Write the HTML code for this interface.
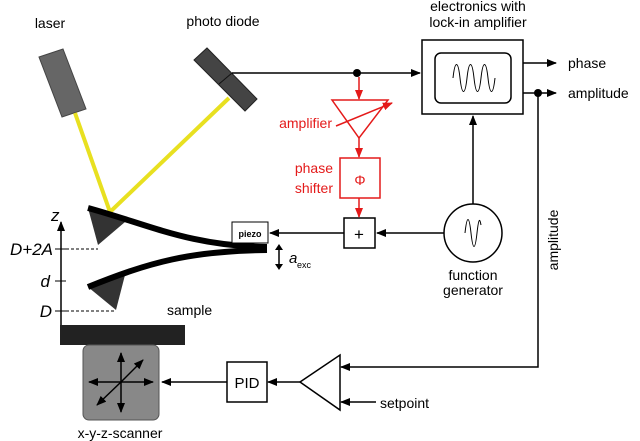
<!DOCTYPE html>
<html><head><style>body{margin:0;background:#fff}svg{display:block}text{font-family:"Liberation Sans",sans-serif}</style></head><body>
<svg width="640" height="441" viewBox="0 0 640 441" xmlns="http://www.w3.org/2000/svg">
<defs>
<marker id="a" markerWidth="10" markerHeight="8" refX="9" refY="4" orient="auto" markerUnits="userSpaceOnUse"><path d="M0,0 L10,4 L0,8z" fill="#000"/></marker>
<marker id="r" markerWidth="10" markerHeight="8" refX="9" refY="4" orient="auto" markerUnits="userSpaceOnUse"><path d="M0,0 L10,4 L0,8z" fill="#e41a1a"/></marker>
</defs>
<text x="50" y="28" font-size="14" text-anchor="middle">laser</text>
<text x="223" y="26" font-size="14" text-anchor="middle">photo diode</text>
<polygon points="39,57 63,49 86,109 62,117" fill="#666" stroke="#444"/>
<polygon points="194,60 207,48 257,99 245,111" fill="#444" stroke="#222"/>
<line x1="219" y1="84" x2="232" y2="73" stroke="#111" stroke-width="1"/>
<polyline points="75,113 110,212 229,98" fill="none" stroke="#e8e020" stroke-width="4"/>
<!-- cantilever -->
<polygon points="88,208 125,222 98,245" fill="#333"/>
<polygon points="88,287 125,275 116,310" fill="#333"/>
<path d="M88,208 C150,225 190,246 267,247" fill="none" stroke="#000" stroke-width="6"/>
<path d="M88,287 C150,262 190,251 267,250" fill="none" stroke="#000" stroke-width="6"/>
<rect x="232" y="222" width="36" height="21" fill="#fff" stroke="#000"/>
<text x="250" y="237" font-size="9" font-weight="bold" text-anchor="middle">piezo</text>
<line x1="279" y1="250" x2="279" y2="264" stroke="#000" stroke-width="1.5"/>
<path d="M275,250 L279,244 L283,250z M275,264 L279,270 L283,264z" fill="#000"/>
<text x="289" y="263" font-size="15" font-style="italic">a</text><text x="297" y="268" font-size="9">exc</text>
<!-- axis -->
<line x1="61" y1="325" x2="61" y2="222" stroke="#000" stroke-width="1.5" marker-end="url(#a)"/>
<text x="51" y="221" font-size="17" font-style="italic">z</text>
<line x1="55" y1="249" x2="66" y2="249" stroke="#000"/><line x1="66" y1="249" x2="98" y2="249" stroke="#000" stroke-dasharray="3,2"/>
<line x1="55" y1="281" x2="66" y2="281" stroke="#000"/>
<line x1="55" y1="311" x2="66" y2="311" stroke="#000"/><line x1="66" y1="311" x2="116" y2="311" stroke="#000" stroke-dasharray="3,2"/>
<text x="53" y="255" font-size="17" font-style="italic" text-anchor="end">D+2A</text>
<text x="50" y="287" font-size="17" font-style="italic" text-anchor="end">d</text>
<text x="52" y="317" font-size="17" font-style="italic" text-anchor="end">D</text>
<text x="167" y="315" font-size="14">sample</text>
<rect x="60" y="325" width="125" height="20" fill="#222"/>
<rect x="83" y="345" width="76" height="75" rx="6" fill="#888" stroke="#555"/>
<g stroke="#000" stroke-width="1.5">
<line x1="121" y1="382" x2="121" y2="353" marker-end="url(#a)"/><line x1="121" y1="382" x2="121" y2="412" marker-end="url(#a)"/>
<line x1="121" y1="382" x2="89" y2="382" marker-end="url(#a)"/><line x1="121" y1="382" x2="153" y2="382" marker-end="url(#a)"/>
<line x1="121" y1="382" x2="143" y2="360" marker-end="url(#a)"/><line x1="121" y1="382" x2="97" y2="405" marker-end="url(#a)"/>
</g>
<text x="120" y="438" font-size="14" text-anchor="middle">x-y-z-scanner</text>
<!-- PID -->
<rect x="227" y="362" width="40" height="40" fill="#fff" stroke="#000" stroke-width="1.5"/>
<text x="247" y="388" font-size="15" text-anchor="middle">PID</text>
<line x1="227" y1="382" x2="162" y2="382" stroke="#000" stroke-width="1.5" marker-end="url(#a)"/>
<polygon points="300,382 340,355 340,410" fill="#fff" stroke="#000" stroke-width="1.5"/>
<line x1="300" y1="382" x2="268" y2="382" stroke="#000" stroke-width="1.5" marker-end="url(#a)"/>
<polyline points="538,93 538,367 341,367" fill="none" stroke="#000" stroke-width="1.5" marker-end="url(#a)"/>
<line x1="376" y1="402" x2="341" y2="402" stroke="#000" stroke-width="1.5" marker-end="url(#a)"/>
<text x="380" y="408" font-size="14">setpoint</text>
<!-- lock-in -->
<text x="478" y="11" font-size="14" text-anchor="middle">electronics with</text>
<text x="478" y="27" font-size="14" text-anchor="middle">lock-in amplifier</text>
<rect x="422" y="40" width="101" height="74" fill="#fff" stroke="#000" stroke-width="1.5"/>
<rect x="435" y="53" width="76" height="50" rx="6" fill="#fff" stroke="#000" stroke-width="1.5"/>
<path d="M453,78 C455,60 458,60 460,78 S465,96 467,78 S472,60 474,78 S479,96 481,78 S486,60 488,78 S493,96 495,78" fill="none" stroke="#000"/>
<line x1="523" y1="63" x2="556" y2="63" stroke="#000" stroke-width="1.5" marker-end="url(#a)"/>
<line x1="523" y1="93" x2="556" y2="93" stroke="#000" stroke-width="1.5" marker-end="url(#a)"/>
<circle cx="538" cy="93" r="4" fill="#000"/>
<text x="568" y="68" font-size="14">phase</text>
<text x="568" y="98" font-size="14">amplitude</text>
<text transform="translate(558,240) rotate(-90)" font-size="14" text-anchor="middle">amplitude</text>
<!-- top wire -->
<line x1="232" y1="73" x2="420" y2="73" stroke="#000" stroke-width="1.5" marker-end="url(#a)"/>
<circle cx="357" cy="73" r="4" fill="#000"/>
<!-- function generator -->
<circle cx="473" cy="233" r="29" fill="#fff" stroke="#000" stroke-width="1.5"/>
<path d="M465,233 C467,215 469,215 471,233 S475,251 477,233 S480,220 481,225" fill="none" stroke="#000"/>
<line x1="473" y1="204" x2="473" y2="116" stroke="#000" stroke-width="1.5" marker-end="url(#a)"/>
<text x="473" y="280" font-size="14" text-anchor="middle">function</text>
<text x="473" y="295" font-size="14" text-anchor="middle">generator</text>
<line x1="444" y1="233" x2="377" y2="233" stroke="#000" stroke-width="1.5" marker-end="url(#a)"/>
<rect x="344" y="218" width="31" height="30" fill="#fff" stroke="#000" stroke-width="1.5"/>
<text x="359" y="240" font-size="17" text-anchor="middle">+</text>
<line x1="344" y1="233" x2="270" y2="233" stroke="#000" stroke-width="1.5" marker-end="url(#a)"/>
<!-- red -->
<g stroke="#e41a1a" stroke-width="1.5" fill="none">
<line x1="359" y1="77" x2="359" y2="99" marker-end="url(#r)"/>
<polygon points="332,100 388,100 359,138" fill="#fff"/>
<line x1="336" y1="126" x2="392" y2="103" marker-end="url(#r)"/>
<line x1="359" y1="138" x2="359" y2="157" marker-end="url(#r)"/>
<rect x="340" y="158" width="40" height="40" fill="#fff"/>
<line x1="359" y1="198" x2="359" y2="217" marker-end="url(#r)"/>
</g>
<text x="360" y="185" font-size="14" fill="#e41a1a" text-anchor="middle">Φ</text>
<text x="332" y="128" font-size="14" fill="#e41a1a" text-anchor="end">amplifier</text>
<text x="333" y="173" font-size="14" fill="#e41a1a" text-anchor="end">phase</text>
<text x="333" y="193" font-size="14" fill="#e41a1a" text-anchor="end">shifter</text>
</svg>
</body></html>
